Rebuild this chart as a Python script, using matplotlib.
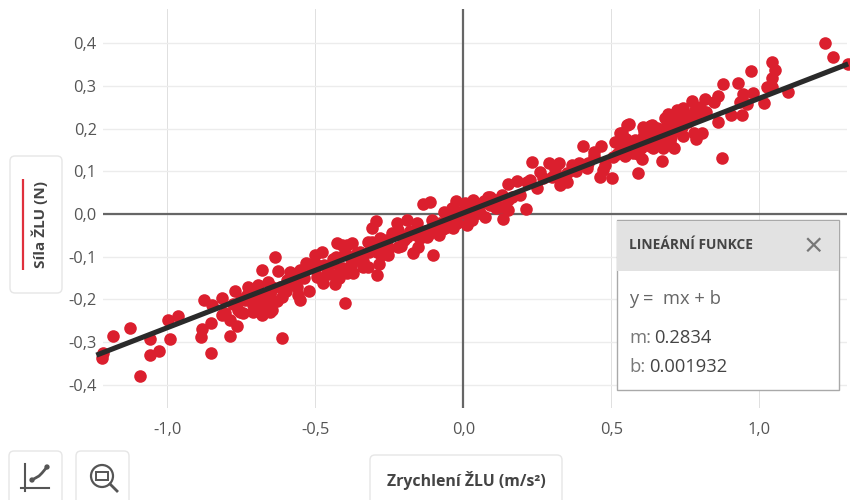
import matplotlib
matplotlib.use("Agg")
import matplotlib.pyplot as plt
from matplotlib.patches import FancyBboxPatch, Rectangle, Circle

plt.rcParams['font.family'] = ['Open Sans', 'DejaVu Sans']

accel = [-1.220,-1.217,-1.183,-1.125,-1.091,-1.058,-1.058,-1.030,-0.990,-0.997,-0.963,-0.888,-0.882,-0.854,-0.854,-0.875,-0.848,-0.817,-0.787,-0.766,-0.814,-0.790,-0.763,-0.746,-0.770,-0.729,-0.695,-0.712,-0.712,-0.679,-0.679,-0.648,-0.614,-0.635,-0.614,-0.553,-0.523,-0.401,-0.293,-0.286,-0.435,-0.475,
-0.628,-0.587,-0.553,-0.533,-0.503,-0.479,-0.428,-0.394,-0.496,-0.563,-0.655,-0.655,-0.699,-0.756,-0.807,-0.645,-0.597,-0.462,-0.418,-0.394,-0.442,-0.496,-0.587,-0.682,-0.739,-0.672,
-0.296,-0.310,-0.323,-0.283,-0.259,-0.255,-0.225,-0.191,-0.157,-0.222,-0.137,-0.113,-0.103,-0.171,-0.154,-0.222,-0.124,-0.083,-0.107,-0.066,-0.039,-0.025,0.005,0.032,0.066,0.083,0.073,0.012,-0.036,-0.056,-0.377,-0.411,-0.360,-0.340,-0.374,-0.408,-0.323,-0.357,-0.384,-0.293,-0.272,-0.191,-0.147,-0.090,-0.012,0.032,0.056,-0.215,
0.232,0.212,0.151,0.134,0.151,0.181,0.164,0.249,0.215,0.259,0.289,0.323,0.327,0.350,0.367,0.391,0.421,0.418,0.404,0.442,0.465,0.462,0.503,0.472,0.513,0.530,0.553,0.547,0.506,0.090,0.124,0.107,0.225,0.299,0.333,0.151,0.191,
0.591,0.672,0.875,0.878,0.929,0.970,1.027,0.980,0.946,0.861,0.817,0.848,0.773,0.821,0.861,0.905,0.942,0.936,0.959,1.017,0.807,0.787,0.743,0.712,0.675,0.631,0.560,0.536,0.530,0.547,0.580,0.607,0.638,0.604,0.641,0.682,0.709,0.743,0.783,0.756,0.723,0.682,0.641,0.607,0.574,0.665,0.699,0.655,1.220,1.250,1.298,1.041,1.054,1.044,1.095,1.044,
0.62,0.65,0.67,0.69,0.71,0.73,0.75,0.77,0.79,0.80,0.74,0.70,0.66,0.63,0.60,0.58,0.56,0.69,0.72,
0.02,0.04,-0.02,0.09,0.10,-0.06,-0.75,-0.70,-0.68,-0.65,-0.62,-0.60,-0.57,-0.54,-0.50,-0.47,-0.45,-0.43,-0.40,-0.38,-0.35,-0.32,-0.30,-0.27,-0.25,-0.20,-0.18,-0.13,-0.10,-0.08,
-0.78,-0.73,-0.69,-0.66,-0.63,-0.59,-0.56,-0.52,-0.48,-0.44,-0.42,-0.37,-0.34,-0.31,-0.28,-0.24,-0.21,-0.16,-0.12,-0.07,-0.04,-0.01,0.01,0.03,0.05,0.07,0.11,0.13,0.27,0.31,0.35,0.38,0.44,0.48,0.52,0.55,0.59,0.61,0.64,0.68,0.71,0.76,0.78]
force = [-0.338,-0.326,-0.286,-0.268,-0.380,-0.293,-0.331,-0.322,-0.293,-0.249,-0.239,-0.289,-0.270,-0.256,-0.326,-0.202,-0.214,-0.197,-0.286,-0.263,-0.237,-0.249,-0.225,-0.232,-0.181,-0.171,-0.167,-0.214,-0.230,-0.237,-0.131,-0.225,-0.291,-0.101,-0.194,-0.202,-0.181,-0.209,-0.143,-0.117,-0.164,-0.162,
-0.134,-0.136,-0.131,-0.115,-0.096,-0.089,-0.068,-0.073,-0.148,-0.171,-0.202,-0.230,-0.218,-0.230,-0.232,-0.171,-0.155,-0.139,-0.131,-0.139,-0.115,-0.120,-0.167,-0.190,-0.202,-0.214,
-0.016,-0.033,-0.066,-0.056,-0.061,-0.096,-0.021,-0.014,-0.021,-0.038,0.023,0.028,-0.096,-0.092,-0.077,-0.077,-0.054,-0.049,-0.014,0.005,0.014,0.031,0.026,0.033,0.026,0.040,-0.007,-0.026,-0.033,-0.031,-0.068,-0.073,-0.092,-0.124,-0.139,-0.127,-0.124,-0.108,-0.101,-0.089,-0.084,-0.054,-0.056,-0.031,0.002,0.005,0.002,-0.049,
0.122,0.012,0.009,-0.012,0.070,0.077,0.040,0.061,0.075,0.099,0.120,0.120,0.068,0.075,0.115,0.120,0.120,0.108,0.160,0.146,0.160,0.087,0.084,0.103,0.169,0.190,0.208,0.139,0.134,0.040,0.016,0.033,0.080,0.087,0.087,0.033,0.045,
0.096,0.124,0.131,0.305,0.308,0.336,0.298,0.284,0.282,0.277,0.270,0.263,0.265,0.239,0.216,0.232,0.232,0.263,0.258,0.260,0.190,0.175,0.184,0.155,0.155,0.207,0.211,0.190,0.162,0.136,0.173,0.204,0.208,0.130,0.155,0.224,0.232,0.249,0.244,0.220,0.208,0.190,0.180,0.180,0.143,0.169,0.169,0.201,0.401,0.368,0.352,0.357,0.337,0.319,0.287,0.298,
0.17,0.185,0.20,0.21,0.195,0.22,0.235,0.225,0.235,0.25,0.205,0.18,0.175,0.16,0.155,0.15,0.155,0.235,0.245,
-0.01,0.0,-0.02,0.02,0.02,-0.03,-0.20,-0.19,-0.20,-0.18,-0.17,-0.18,-0.15,-0.15,-0.13,-0.12,-0.14,-0.10,-0.09,-0.12,-0.09,-0.09,-0.07,-0.06,-0.08,-0.06,-0.04,-0.04,-0.03,-0.02,
-0.21,-0.19,-0.225,-0.16,-0.205,-0.16,-0.19,-0.12,-0.15,-0.105,-0.15,-0.105,-0.11,-0.065,-0.095,-0.045,-0.075,-0.05,-0.05,-0.035,-0.015,0.005,0.02,-0.015,0.015,0.03,0.015,0.045,0.085,0.105,0.095,0.10,0.135,0.115,0.14,0.175,0.14,0.195,0.195,0.165,0.225,0.215,0.19]
fit_x = [-1.24, 1.30]
fit_y = [-0.331, 0.352]
x_ticks = [-1.0, -0.5, 0.0, 0.5, 1.0]
x_labels = ['-1,0', '-0,5', '0,0', '0,5', '1,0']
y_ticks = [-0.4, -0.3, -0.2, -0.1, 0.0, 0.1, 0.2, 0.3, 0.4]
y_labels = ['-0,4', '-0,3', '-0,2', '-0,1', '0,0', '0,1', '0,2', '0,3', '0,4']
x_title = 'Zrychlení ŽLU (m/s²)'
y_title = 'Síla ŽLU (N)'

W, H = 850, 500
fig = plt.figure(figsize=(W/100, H/100), dpi=100, facecolor='white')
L, R, T, B = 103, 847, 9, 408
ax = fig.add_axes([L/W, 1-B/H, (R-L)/W, (B-T)/H])
ax.set_xlim((L-463.4)/296, (R-463.4)/296)
ax.set_ylim((214-B)/426.5, (214-T)/426.5)
for s in ax.spines.values():
    s.set_visible(False)
ax.set_xticks(x_ticks, x_labels)
ax.set_yticks(y_ticks, y_labels)
ax.tick_params(length=0, labelsize=11.8, labelcolor='#555555')
ax.tick_params(axis='x', pad=10)
ax.tick_params(axis='y', pad=4.5)
ax.xaxis.grid(True, color='#e0e0e0', lw=0.7)
ax.yaxis.grid(True, color='#ececec', lw=1.0)
ax.set_axisbelow(True)
ax.axhline(0, color='#666666', lw=1.6, zorder=1.5)
ax.axvline(0, color='#666666', lw=1.6, zorder=1.5)
ax.scatter(accel, force, s=82, color='#db1f2e', linewidths=0, zorder=3, clip_on=False)
ax.plot(fit_x, fit_y, color='#2a2a2a', lw=3.7, solid_capstyle='butt', zorder=4, clip_on=False)

# interface overlay, in pixel coordinates
ui = fig.add_axes([0, 0, 1, 1], facecolor='none')
ui.set_xlim(0, W); ui.set_ylim(H, 0); ui.axis('off')

def card(x0, y0, x1, y1):
    ui.add_patch(FancyBboxPatch((x0+4, y0+4), x1-x0-8, y1-y0-8, boxstyle='round,pad=4,rounding_size=5',
                                fc='white', ec='#e6e6e6', lw=1, clip_on=True))

card(10, 156, 62, 293)
ui.plot([23.5, 23.5], [179, 270], color='#e0303c', lw=1.6, solid_capstyle='butt')
ui.text(39.5, 225, y_title, rotation=90, ha='center', va='center', fontsize=11, fontweight='bold', color='#444444')
card(370, 455, 562, 520)
ui.text(466, 481, x_title, ha='center', va='center', fontsize=11.4, fontweight='bold', color='#444444')
card(9, 451, 62, 520)
card(76, 451, 129, 520)

# scatter-fit icon
ic = '#555555'
ui.plot([25.5, 25.5], [464, 491], color=ic, lw=1.5)
ui.plot([21, 49], [488, 488], color=ic, lw=1.5)
ui.plot([32, 39, 42, 47], [480, 476, 473, 467], color=ic, lw=2)
ui.add_patch(Circle((32, 480), 1.8, fc='none', ec=ic, lw=1.2))
ui.add_patch(Circle((47, 467), 1.8, fc='none', ec=ic, lw=1.2))
# zoom icon
ui.add_patch(Circle((102, 476), 11, fc='none', ec=ic, lw=1.6))
ui.add_patch(Rectangle((96, 472), 12, 8, fc='none', ec=ic, lw=1.4))
ui.plot([110, 117], [484, 491], color=ic, lw=2)

# linear function panel
ui.add_patch(Rectangle((617, 220), 222.5, 170, fc='white', ec='#a9a9a9', lw=1, zorder=5))
ui.add_patch(Rectangle((617.5, 220.5), 221.5, 50.5, fc='#e2e2e2', ec='none', zorder=6))
ui.text(629, 245, 'LINEÁRNÍ FUNKCE', ha='left', va='center', fontsize=9.9, fontweight='bold', color='#444444', zorder=7)
ui.plot([808, 819.5], [239, 250.5], color='#777777', lw=1.6, zorder=7)
ui.plot([808, 819.5], [250.5, 239], color='#777777', lw=1.6, zorder=7)
ui.text(629, 299, 'y =  mx + b', ha='left', va='center', fontsize=13.2, color='#666666', zorder=7)
ui.text(629, 338, 'm:', ha='left', va='center', fontsize=13.2, color='#777777', zorder=7)
ui.text(654, 338, '0.2834', ha='left', va='center', fontsize=13.2, color='#444444', zorder=7)
ui.text(629, 367, 'b:', ha='left', va='center', fontsize=13.2, color='#777777', zorder=7)
ui.text(649, 367, '0.001932', ha='left', va='center', fontsize=13.2, color='#444444', zorder=7)

fig.savefig('out.png', dpi=100)
